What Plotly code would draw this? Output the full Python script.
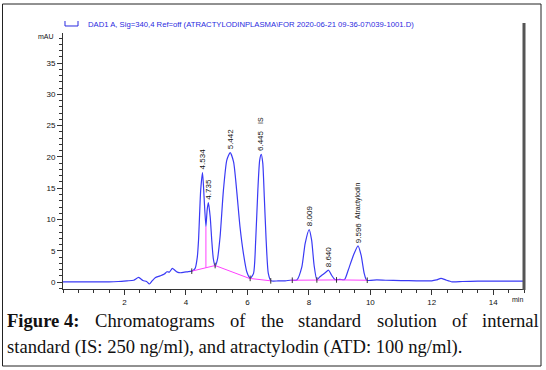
import plotly.graph_objects as go

# ---------------- data ----------------
time_min = [0.0, 0.5, 1.0, 1.5, 1.8, 2.08, 2.3, 2.46, 2.6, 2.72, 2.81, 2.9, 3.0, 3.16, 3.3,
            3.38, 3.46, 3.56, 3.64, 3.72, 3.83, 3.95, 4.05, 4.19, 4.3, 4.37, 4.41, 4.48,
            4.54, 4.59, 4.65, 4.69, 4.73, 4.79, 4.84, 4.89, 4.95, 5.02, 5.11, 5.22, 5.33,
            5.44, 5.55, 5.65, 5.76, 5.87, 5.98, 6.09, 6.2, 6.27, 6.34, 6.4, 6.45, 6.5,
            6.55, 6.61, 6.68, 6.77, 7.0, 7.23, 7.39, 7.61, 7.77, 7.88, 8.01, 8.09, 8.17,
            8.26, 8.36, 8.53, 8.64, 8.74, 8.85, 9.01, 9.16, 9.28, 9.45, 9.6, 9.7, 9.8,
            9.88, 10.21, 10.5, 11.0, 11.5, 12.0, 12.15, 12.3, 12.45, 12.66, 13.0, 13.5,
            14.0, 14.6, 15.0]
absorbance_mau = [0.05, 0.05, 0.05, 0.05, 0.1, 0.2, 0.3, 0.75, 0.25, 0.1, -0.3, 0.2, 0.7, 1.0, 1.3,
                  1.65, 1.6, 2.2, 1.9, 1.6, 1.5, 1.6, 1.65, 1.75, 2.2, 4.0, 6.7, 14.7,
                  17.5, 13.6, 8.9, 11.5, 12.7, 10.4, 6.7, 3.8, 2.55, 3.5, 7.2, 14.7, 19.5,
                  20.7, 19.2, 14.7, 8.8, 4.6, 1.65, 0.6, 1.4, 6.7, 14.7, 19.5, 20.4, 19.0,
                  13.6, 6.7, 1.4, 0.2, 0.2, 0.2, 0.3, 0.35, 2.4, 6.2, 8.4, 6.7, 2.7,
                  0.4, 0.85, 1.5, 1.9, 1.1, 0.4, 0.45, 0.4, 1.9, 4.3, 5.8, 4.3, 1.4,
                  0.3, 0.35, 0.3, 0.25, 0.2, 0.2, 0.35, 0.6, 0.35, 0.05, 0.1, 0.15,
                  0.15, 0.15, 0.15]

# integration baselines (None separates segments)
baseline_time = [4.19, 4.65, 4.95, 6.06, 6.77, None, 4.65, 4.65, None, 7.4, 8.3, 9.0, 9.9]
baseline_mau = [1.75, 2.3, 2.65, 0.6, 0.2, None, 2.3, 8.9, None, 0.3, 0.35, 0.35, 0.3]

# integration event markers
event_time = [4.19, 4.95, 6.09, 6.76, 7.46, 8.26, 8.9, 9.9]
event_mau = [1.75, 2.65, 0.6, 0.2, 0.3, 0.35, 0.35, 0.3]

peak_rt = [4.534, 4.735, 5.442, 6.445, 8.009, 8.640, 9.596]
peak_height = [17.5, 12.7, 20.7, 20.4, 8.4, 1.9, 5.8]
peak_labels = ["4.534", "4.735", "5.442", "6.445", "8.009", "8.640", "9.596"]
peak_names = {6.445: ("IS", 28), 9.596: ("Atractylodin", 25)}

x_ticks = [2, 4, 6, 8, 10, 12, 14]
y_ticks = [0, 5, 10, 15, 20, 25, 30, 35]

header = "DAD1 A, Sig=340,4 Ref=off (ATRACTYLODINPLASMA\\FOR 2020-06-21 09-36-07\\039-1001.D)"
caption_line1 = ["Figure 4:", "Chromatograms", "of", "the", "standard", "solution", "of", "internal"]
caption_line2 = "standard (IS: 250 ng/ml), and atractylodin (ATD: 100 ng/ml)."

# ---------------- layout helpers ----------------
W, H = 546, 370
L, R, T, B = 63, 22, 33, 81
PW, PH = W - L - R, H - T - B


def px(xp):
    return (xp - L) / PW


def py(yp):
    return (H - B - yp) / PH


BLUE = "#3a3af5"
MAG = "#ff40ff"
SERIF = "Liberation Serif"
CAP_SIZE = 18.6

fig = go.Figure()
fig.add_trace(go.Scatter(x=time_min, y=absorbance_mau, mode="lines",
                         line=dict(color=BLUE, width=1.2, shape="spline", smoothing=0.6),
                         hoverinfo="skip"))
fig.add_trace(go.Scatter(x=baseline_time, y=baseline_mau, mode="lines",
                         line=dict(color=MAG, width=1), connectgaps=False, hoverinfo="skip"))
fig.add_trace(go.Scatter(x=event_time, y=event_mau, mode="markers",
                         marker=dict(symbol="line-ns", size=4, line=dict(color="#333", width=1)),
                         hoverinfo="skip"))

annotations = []
for rt, h, lab in zip(peak_rt, peak_height, peak_labels):
    annotations.append(dict(x=rt, y=h, xref="x", yref="y", text=lab, textangle=-90,
                            showarrow=False, yanchor="bottom", xanchor="center", yshift=1,
                            font=dict(family="Arial", size=8, color="#111")))
    if rt in peak_names:
        name, shift = peak_names[rt]
        annotations.append(dict(x=rt, y=h, xref="x", yref="y", text=name, textangle=-90,
                                showarrow=False, yanchor="bottom", xanchor="center", yshift=shift,
                                font=dict(family="Arial", size=7, color="#111")))

annotations.append(dict(x=px(86), y=py(24), xref="paper", yref="paper", text=header,
                        showarrow=False, xanchor="left", yanchor="middle",
                        font=dict(family="Arial", size=7.7, color="#2a2ae0")))
annotations.append(dict(x=px(56), y=py(36), xref="paper", yref="paper", text="mAU",
                        showarrow=False, xanchor="right", yanchor="middle",
                        font=dict(family="Arial", size=7, color="#111")))
annotations.append(dict(x=px(525), y=py(299), xref="paper", yref="paper", text="min",
                        showarrow=False, xanchor="right", yanchor="middle",
                        font=dict(family="Arial", size=7, color="#111")))

# justified first caption line: left edge of each word in pixels
word_left = [6, 94, 229, 259.5, 297, 375.5, 450.5, 481]
for i, (w, wx) in enumerate(zip(caption_line1, word_left)):
    txt = "<b>%s</b>" % w if i == 0 else w
    annotations.append(dict(x=px(wx), y=py(320), xref="paper", yref="paper", text=txt,
                            showarrow=False, xanchor="left", yanchor="middle", borderpad=0,
                            font=dict(family=SERIF, size=CAP_SIZE, color="#111")))
annotations.append(dict(x=px(6), y=py(347), xref="paper", yref="paper", text=caption_line2,
                        showarrow=False, xanchor="left", yanchor="middle", borderpad=0,
                        font=dict(family=SERIF, size=CAP_SIZE, color="#111")))

shapes = [
    dict(type="rect", xref="paper", yref="paper", x0=px(2.5), x1=px(541), y0=py(4), y1=py(366),
         line=dict(color="#222", width=1)),
    dict(type="line", xref="paper", yref="paper", x0=px(524), x1=px(524), y0=py(23), y1=py(290),
         line=dict(color="#555", width=3)),
    dict(type="path", xref="paper", yref="paper",
         path="M %f %f L %f %f L %f %f L %f %f" % (px(65), py(21), px(65), py(26), px(78), py(26), px(78), py(21)),
         line=dict(color="#2a2ae0", width=1)),
]

fig.update_layout(
    width=W, height=H, margin=dict(l=L, r=R, t=T, b=B),
    paper_bgcolor="white", plot_bgcolor="white", showlegend=False,
    annotations=annotations, shapes=shapes,
    xaxis=dict(range=[0, 15], tickvals=x_ticks, ticktext=[str(v) for v in x_ticks],
               showgrid=False, zeroline=False, showline=True, linecolor="#333", linewidth=1,
               ticks="outside", ticklen=5, tickcolor="#333", tickwidth=1,
               tickfont=dict(family="Arial", size=8, color="#111"),
               minor=dict(ticks="outside", ticklen=3, tickcolor="#333", dtick=0.5, tick0=0)),
    yaxis=dict(range=[-1.1, 39.8], tickvals=y_ticks, ticktext=[str(v) for v in y_ticks],
               showgrid=False, zeroline=False, showline=True, linecolor="#333", linewidth=1,
               ticks="outside", ticklen=5, tickcolor="#333", tickwidth=1,
               tickfont=dict(family="Arial", size=8, color="#111"),
               minor=dict(ticks="outside", ticklen=3, tickcolor="#333", dtick=1, tick0=0)),
)

fig.write_html("out.html", config={"displayModeBar": False},
               post_script="document.body.style.margin='0px';document.body.style.overflow='hidden';")
